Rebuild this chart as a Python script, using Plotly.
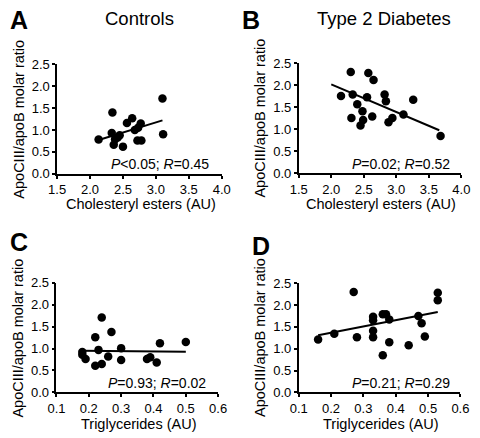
import plotly.graph_objects as go

# ---------------- data ----------------
a_x = [2.13, 2.34, 2.33, 2.38, 2.36, 2.45, 2.50, 2.42, 2.56, 2.64, 2.68, 2.73, 2.77, 2.72, 2.78, 3.10, 3.11]
a_y = [0.78, 1.40, 0.93, 0.79, 0.66, 0.88, 0.62, 0.83, 1.16, 1.27, 1.00, 1.05, 1.15, 0.76, 0.76, 1.72, 0.90]
a_line_x = [2.13, 3.10]
a_line_y = [0.77, 1.22]

b_x = [2.30, 2.57, 2.65, 2.15, 2.33, 2.55, 2.82, 2.84, 3.26, 2.40, 2.48, 2.31, 2.63, 2.49, 2.45, 2.88, 2.94, 3.11, 3.68]
b_y = [2.30, 2.28, 2.12, 1.76, 1.79, 1.73, 1.79, 1.64, 1.67, 1.57, 1.41, 1.26, 1.29, 1.21, 1.09, 1.16, 1.26, 1.34, 0.85]
b_line_x = [2.00, 3.66]
b_line_y = [2.02, 0.98]

c_x = [0.24, 0.27, 0.22, 0.18, 0.18, 0.19, 0.23, 0.26, 0.30, 0.30, 0.22, 0.24, 0.38, 0.39, 0.41, 0.42, 0.50]
c_y = [1.71, 1.38, 1.26, 0.92, 0.86, 0.76, 0.97, 0.82, 1.01, 0.74, 0.61, 0.65, 0.76, 0.80, 0.68, 1.12, 1.15]
c_line_x = [0.18, 0.50]
c_line_y = [0.95, 0.93]

d_x = [0.16, 0.21, 0.27, 0.28, 0.33, 0.33, 0.33, 0.33, 0.36, 0.37, 0.38, 0.38, 0.36, 0.44, 0.47, 0.48, 0.49, 0.53, 0.53]
d_y = [1.21, 1.34, 2.30, 1.26, 1.73, 1.65, 1.41, 1.26, 1.79, 1.79, 1.67, 1.15, 0.85, 1.08, 1.75, 1.58, 1.28, 2.28, 2.11]
d_line_x = [0.16, 0.53]
d_line_y = [1.31, 1.84]

panel_letters = ["A", "B", "C", "D"]
col_titles = ["Controls", "Type 2 Diabetes"]
y_title = "ApoCIII/apoB molar ratio"
x_titles = ["Cholesteryl esters (AU)", "Cholesteryl esters (AU)", "Triglycerides (AU)", "Triglycerides (AU)"]
stats = ["<i>P</i>&lt;0.05; <i>R</i>=0.45", "<i>P</i>=0.02; <i>R</i>=0.52",
         "<i>P</i>=0.93; <i>R</i>=0.02", "<i>P</i>=0.21; <i>R</i>=0.29"]
stat_x = [3.84, 3.85, 0.569, 0.573]
ce_ticks = [1.5, 2.0, 2.5, 3.0, 3.5, 4.0]
tg_ticks = [0.1, 0.2, 0.3, 0.4, 0.5, 0.6]
y_ticks = [0.0, 0.5, 1.0, 1.5, 2.0, 2.5]

W, H = 480, 438
FONT = "Liberation Sans, Arial, sans-serif"

# pixel boxes of the four plot areas (left, right, top, bottom)
boxes = [(50, 221, 59.3, 172.7), (301, 470, 58.3, 172.3),
         (49.3, 217.3, 285.7, 399), (301, 469, 286, 399)]

fig = go.Figure()
panels = [(a_x, a_y, a_line_x, a_line_y), (b_x, b_y, b_line_x, b_line_y),
          (c_x, c_y, c_line_x, c_line_y), (d_x, d_y, d_line_x, d_line_y)]

for i, (px, py, lx, ly) in enumerate(panels):
    n = "" if i == 0 else str(i + 1)
    xa, ya = "x" + n, "y" + n
    fig.add_trace(go.Scatter(x=lx, y=ly, mode="lines", line=dict(color="black", width=2),
                             xaxis=xa, yaxis=ya, showlegend=False, hoverinfo="skip"))
    fig.add_trace(go.Scatter(x=px, y=py, mode="markers",
                             marker=dict(color="black", size=8.5, line=dict(width=0)),
                             xaxis=xa, yaxis=ya, showlegend=False, cliponaxis=False))
    l, r, t, b = boxes[i]
    ticks = ce_ticks if i < 2 else tg_ticks
    common = dict(showline=True, linecolor="black", linewidth=1.5, ticks="outside",
                  ticklen=3, tickwidth=1.5, tickcolor="black", showgrid=False,
                  zeroline=False, tickfont=dict(family=FONT, size=13, color="black"))
    fig.layout["xaxis" + n] = dict(domain=[l / W, r / W], range=[ticks[0], ticks[-1]],
                                   tickvals=ticks, ticktext=[f"{v:.1f}" for v in ticks],
                                   anchor=ya, **common)
    fig.layout["yaxis" + n] = dict(domain=[1 - b / H, 1 - t / H], range=[0, 2.5],
                                   tickvals=y_ticks, ticktext=[f"{v:.1f}" for v in y_ticks],
                                   anchor=xa, **common)
    # stats text
    fig.add_annotation(x=stat_x[i], y=0.22, xref=xa, yref=ya, text=stats[i],
                       showarrow=False, xanchor="right", yanchor="middle",
                       font=dict(family=FONT, size=14, color="black"))
    # x title
    fig.add_annotation(x=(l + r) / 2 / W + 0.003, y=1 - (203.5 if i < 2 else 432) / H,
                       xref="paper", yref="paper", text=x_titles[i], showarrow=False,
                       xanchor="center", yanchor="middle",
                       font=dict(family=FONT, size=14.5, color="black"))
    # y title
    fig.add_annotation(x=(l - 40) / W, y=1 - (t + b) / 2 / H, xref="paper", yref="paper",
                       text=y_title, textangle=-90, showarrow=False,
                       xanchor="center", yanchor="middle",
                       font=dict(family=FONT, size=14.5, color="black"))

# panel letters
letter_pos = [(-1, -3), (240, -3), (-1, 227), (250, 231)]
for (lx, ly), txt in zip(letter_pos, panel_letters):
    fig.add_annotation(x=lx / W, y=1 - ly / H, xref="paper", yref="paper", text=f"<b>{txt}</b>",
                       showarrow=False, xanchor="left", yanchor="top",
                       font=dict(family=FONT, size=25, color="black"))

# column titles
for cx, txt in zip([136, 390], col_titles):
    fig.add_annotation(x=cx / W, y=1 - 12 / H, xref="paper", yref="paper", text=txt,
                       showarrow=False, xanchor="center", yanchor="middle",
                       font=dict(family=FONT, size=18.5, color="black"))

fig.update_layout(width=W, height=H, margin=dict(l=0, r=0, t=0, b=0),
                  paper_bgcolor="white", plot_bgcolor="white",
                  font=dict(family=FONT, color="black"))

fig.write_html("out.html", config={"displayModeBar": False},
               post_script="document.body.style.margin='0';document.body.style.padding='0';"
                           "document.body.style.overflow='hidden';")
